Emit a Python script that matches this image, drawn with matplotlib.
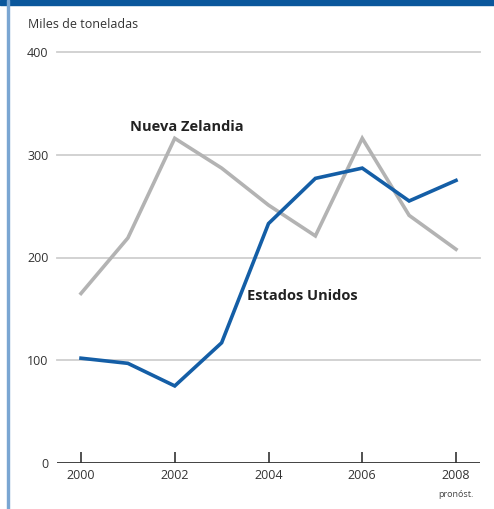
import matplotlib.pyplot as plt
import matplotlib.patches as patches

years = [2000, 2001, 2002, 2003, 2004, 2005, 2006, 2007, 2008]
nueva_zelandia = [165, 219, 316, 287, 251, 221, 316, 241, 208]
estados_unidos = [102, 97, 75, 117, 233, 277, 287, 255, 275]
yticks = [0, 100, 200, 300, 400]
xticks = [2000, 2002, 2004, 2006, 2008]

plt.rcParams['font.family'] = ['Open Sans', 'DejaVu Sans']

fig = plt.figure(figsize=(4.94, 5.09), dpi=100)
# blue frame at top and left
fig.patches.append(patches.Rectangle((0, 1 - 5 / 509), 1, 5 / 509, transform=fig.transFigure,
                                     color='#0a579c', zorder=0))
fig.patches.append(patches.Rectangle((7 / 494, 0), 2 / 494, 1, transform=fig.transFigure,
                                     color='#7aa6d2', zorder=0))

ax = fig.add_axes([57 / 494, 46 / 509, 423 / 494, 411 / 509])
ax.set_xlim(1999.488, 2008.512)
ax.set_ylim(0, 400)

for y in yticks[1:]:
    ax.axhline(y, color='#cfcfcf', lw=1.3, zorder=1, clip_on=False)
ax.axhline(0, color='#333333', lw=1.3, zorder=3)

ax.plot(years, nueva_zelandia, color='#b3b3b3', lw=2.6, zorder=4, solid_joinstyle='miter')
ax.plot(years, estados_unidos, color='#145ea6', lw=2.6, zorder=5, solid_joinstyle='miter')

for s in ax.spines.values():
    s.set_visible(False)
ax.set_yticks(yticks)
ax.set_xticks(xticks)
ax.tick_params(axis='y', length=0, pad=6, labelsize=9, labelcolor='#333333')
ax.tick_params(axis='x', direction='in', length=8, width=1.2, color='#333333',
               pad=4, labelsize=9, labelcolor='#333333')

ax.text(2008, -31, 'pronóst.', ha='center', va='center', fontsize=6.5, color='#444444')
ax.text(2001.05, 327, 'Nueva Zelandia', fontsize=10.5, fontweight='bold', color='#222222',
        va='center')
ax.text(2003.55, 163, 'Estados Unidos', fontsize=10.5, fontweight='bold', color='#222222',
        va='center')
fig.text(28 / 494, 1 - 25 / 509, 'Miles de toneladas', fontsize=9, color='#333333', va='center')

fig.savefig('out.png', dpi=100)
